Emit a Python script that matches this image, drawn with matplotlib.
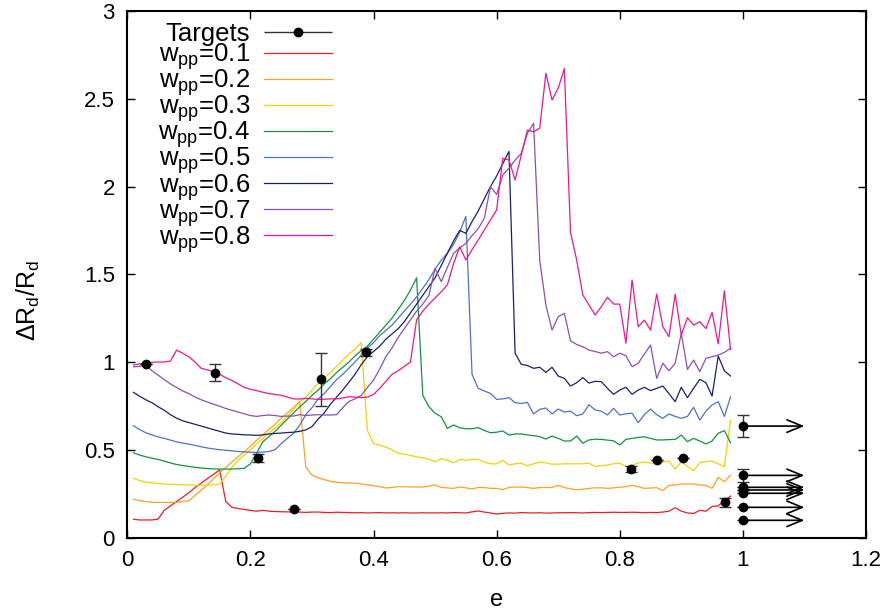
import numpy as np
import matplotlib
matplotlib.use("Agg")
import matplotlib.pyplot as plt
from matplotlib.legend_handler import HandlerErrorbar

plt.rcParams['font.family'] = ['Liberation Sans', 'DejaVu Sans']
plt.rcParams['mathtext.fontset'] = 'custom'
plt.rcParams['mathtext.rm'] = 'Liberation Sans'
plt.rcParams['mathtext.it'] = 'Liberation Sans'
plt.rcParams['mathtext.default'] = 'regular'

# ---------------- data ----------------
e_grid = np.round(np.arange(1, 99) * 0.01, 2)   # 0.01 ... 0.98

w01 = [0.104, 0.10, 0.10, 0.10, 0.105, 0.155, 0.18, 0.205, 0.23, 0.255,
       0.285, 0.31, 0.335, 0.36, 0.385, 0.205, 0.172, 0.165, 0.16, 0.155,
       0.15, 0.155, 0.15, 0.148, 0.147, 0.146, 0.145, 0.145, 0.143, 0.145,
       0.145, 0.143, 0.142, 0.144, 0.143, 0.142, 0.141, 0.142, 0.140, 0.141,
       0.142, 0.140, 0.141, 0.140, 0.141, 0.140, 0.140, 0.141, 0.140, 0.140,
       0.141, 0.140, 0.142, 0.141, 0.140, 0.146, 0.151, 0.145, 0.140, 0.134,
       0.138, 0.140, 0.139, 0.142, 0.141, 0.140, 0.141, 0.139, 0.140, 0.141,
       0.141, 0.142, 0.141, 0.140, 0.142, 0.143, 0.142, 0.143, 0.144, 0.143,
       0.143, 0.144, 0.143, 0.142, 0.143, 0.142, 0.145, 0.150, 0.170, 0.150,
       0.140, 0.137, 0.155, 0.150, 0.177, 0.180, 0.210, 0.236]

w02 = [0.218, 0.21, 0.205, 0.20, 0.20, 0.20, 0.20, 0.20, 0.205, 0.21,
       0.24, 0.27, 0.30, 0.335, 0.37, 0.40, 0.43, 0.46, 0.49, 0.52,
       0.555, 0.585, 0.615, 0.645, 0.68, 0.71, 0.74, 0.775, 0.40, 0.356,
       0.34, 0.33, 0.32, 0.315, 0.312, 0.31, 0.31, 0.305, 0.30, 0.295,
       0.29, 0.282, 0.285, 0.29, 0.289, 0.288, 0.288, 0.288, 0.292, 0.30,
       0.285, 0.283, 0.28, 0.288, 0.283, 0.277, 0.285, 0.285, 0.28, 0.28,
       0.273, 0.285, 0.287, 0.288, 0.284, 0.28, 0.285, 0.285, 0.285, 0.297,
       0.285, 0.277, 0.272, 0.275, 0.28, 0.283, 0.283, 0.28, 0.283, 0.287,
       0.29, 0.297, 0.29, 0.28, 0.282, 0.284, 0.267, 0.297, 0.30, 0.305,
       0.305, 0.305, 0.30, 0.297, 0.28, 0.343, 0.318, 0.356]

w03 = [0.337, 0.325, 0.315, 0.312, 0.308, 0.305, 0.303, 0.302, 0.30, 0.30,
       0.298, 0.298, 0.298, 0.30, 0.305, 0.35, 0.40, 0.44, 0.47, 0.50,
       0.535, 0.565, 0.595, 0.625, 0.655, 0.69, 0.73, 0.77, 0.80, 0.84,
       0.88, 0.91, 0.94, 0.975, 1.01, 1.045, 1.075, 1.11, 0.61, 0.535,
       0.527, 0.515, 0.50, 0.48, 0.475, 0.468, 0.46, 0.455, 0.445, 0.432,
       0.45, 0.44, 0.426, 0.445, 0.44, 0.445, 0.445, 0.43, 0.42, 0.42,
       0.44, 0.413, 0.42, 0.423, 0.409, 0.42, 0.43, 0.425, 0.418, 0.418,
       0.42, 0.42, 0.42, 0.42, 0.423, 0.404, 0.41, 0.413, 0.42, 0.423,
       0.404, 0.41, 0.425, 0.43, 0.425, 0.423, 0.43, 0.436, 0.389, 0.432,
       0.405, 0.381, 0.428, 0.432, 0.436, 0.42, 0.404, 0.67]

w04 = [0.483, 0.47, 0.46, 0.452, 0.445, 0.435, 0.425, 0.416, 0.41, 0.405,
       0.40, 0.396, 0.393, 0.391, 0.39, 0.39, 0.39, 0.392, 0.394, 0.42,
       0.48, 0.545, 0.575, 0.605, 0.64, 0.675, 0.71, 0.745, 0.775, 0.81,
       0.84, 0.875, 0.905, 0.94, 0.97, 1.0, 1.035, 1.065, 1.09, 1.13,
       1.17, 1.21, 1.25, 1.30, 1.35, 1.41, 1.48, 0.81, 0.745, 0.708,
       0.688, 0.622, 0.641, 0.625, 0.62, 0.62, 0.626, 0.61, 0.597, 0.60,
       0.607, 0.584, 0.59, 0.59, 0.585, 0.58, 0.575, 0.561, 0.578, 0.565,
       0.55, 0.55, 0.578, 0.537, 0.556, 0.56, 0.559, 0.555, 0.551, 0.527,
       0.559, 0.565, 0.57, 0.574, 0.565, 0.556, 0.556, 0.558, 0.559, 0.584,
       0.546, 0.565, 0.55, 0.533, 0.55, 0.594, 0.609, 0.54]

w05 = [0.637, 0.615, 0.597, 0.585, 0.573, 0.565, 0.555, 0.545, 0.538, 0.532,
       0.525, 0.517, 0.51, 0.505, 0.50, 0.497, 0.494, 0.49, 0.488, 0.486,
       0.485, 0.487, 0.49, 0.50, 0.535, 0.565, 0.594, 0.64, 0.70, 0.74,
       0.79, 0.82, 0.86, 0.90, 0.93, 0.965, 1.0, 1.04, 1.08, 1.11,
       1.15, 1.18, 1.21, 1.25, 1.29, 1.33, 1.37, 1.42, 1.47, 1.53,
       1.58, 1.62, 1.67, 1.74, 1.83, 0.93, 0.85, 0.835, 0.821, 0.787,
       0.79, 0.797, 0.768, 0.764, 0.77, 0.704, 0.73, 0.738, 0.704, 0.732,
       0.715, 0.72, 0.694, 0.704, 0.757, 0.727, 0.72, 0.698, 0.736, 0.698,
       0.705, 0.708, 0.654, 0.70, 0.732, 0.70, 0.679, 0.704, 0.69, 0.679,
       0.69, 0.742, 0.669, 0.72, 0.755, 0.774, 0.69, 0.802]

w06 = [0.827, 0.805, 0.785, 0.768, 0.745, 0.725, 0.70, 0.68, 0.665, 0.655,
       0.645, 0.635, 0.625, 0.615, 0.605, 0.595, 0.59, 0.588, 0.585, 0.584,
       0.582, 0.585, 0.59, 0.593, 0.595, 0.598, 0.60, 0.605, 0.613, 0.632,
       0.675, 0.71, 0.76, 0.80, 0.84, 0.885, 0.93, 0.985, 1.03, 1.06,
       1.09, 1.13, 1.16, 1.19, 1.23, 1.28, 1.33, 1.38, 1.43, 1.48,
       1.55, 1.62, 1.69, 1.75, 1.733, 1.80, 1.86, 1.93, 2.00, 2.06,
       2.13, 2.20, 1.05, 0.987, 0.98, 0.964, 0.97, 0.941, 0.97, 0.92,
       0.907, 0.863, 0.882, 0.911, 0.88, 0.89, 0.888, 0.85, 0.816, 0.84,
       0.856, 0.816, 0.84, 0.856, 0.837, 0.85, 0.863, 0.82, 0.774, 0.856,
       0.797, 0.85, 0.901, 0.882, 0.806, 1.034, 0.95, 0.92]

w07 = [0.973, 0.975, 0.983, 0.95, 0.925, 0.90, 0.875, 0.855, 0.835, 0.82,
       0.80, 0.785, 0.772, 0.76, 0.748, 0.735, 0.725, 0.715, 0.705, 0.695,
       0.69, 0.695, 0.698, 0.695, 0.69, 0.692, 0.692, 0.70, 0.695, 0.698,
       0.70, 0.698, 0.698, 0.70, 0.74, 0.775, 0.79, 0.81, 0.855, 0.897,
       0.96, 1.03, 1.08, 1.14, 1.19, 1.24, 1.29, 1.33, 1.38, 1.534,
       1.458, 1.54, 1.619, 1.65, 1.676, 1.72, 1.76, 1.819, 1.999, 1.955,
       2.066, 2.104, 2.15, 2.189, 2.303, 2.36, 1.58, 1.325, 1.182, 1.258,
       1.277, 1.121, 1.10, 1.087, 1.068, 1.06, 1.05, 1.059, 1.03, 1.05,
       1.036, 0.973, 0.993, 1.045, 1.097, 0.907, 0.993, 0.95, 0.993, 1.163,
       0.958, 1.011, 0.945, 1.021, 1.03, 1.04, 1.055, 1.078]

w08 = [0.983, 0.99, 0.993, 0.998, 1.0, 1.0, 1.005, 1.068, 1.05, 1.03,
       1.0, 0.964, 0.955, 0.945, 0.93, 0.91, 0.895, 0.875, 0.855, 0.845,
       0.837, 0.828, 0.82, 0.815, 0.81, 0.80, 0.79, 0.789, 0.793, 0.79,
       0.787, 0.788, 0.79, 0.79, 0.795, 0.802, 0.80, 0.797, 0.80, 0.815,
       0.85, 0.89, 0.93, 0.95, 0.975, 1.0, 1.24, 1.29, 1.33, 1.365,
       1.40, 1.44, 1.56, 1.657, 1.581, 1.64, 1.695, 1.752, 1.81, 1.866,
       2.161, 2.151, 2.037, 2.179, 2.322, 2.312, 2.332, 2.645, 2.493, 2.56,
       2.673, 1.74, 1.581, 1.382, 1.325, 1.268, 1.315, 1.369, 1.33, 1.33,
       1.107, 1.467, 1.201, 1.239, 1.182, 1.387, 1.201, 1.144, 1.386, 1.154,
       1.252, 1.21, 1.23, 1.19, 1.283, 1.103, 1.406, 1.072]

series_labels = ['w$_{pp}$=0.1', 'w$_{pp}$=0.2', 'w$_{pp}$=0.3', 'w$_{pp}$=0.4',
                 'w$_{pp}$=0.5', 'w$_{pp}$=0.6', 'w$_{pp}$=0.7', 'w$_{pp}$=0.8']
series_values = [w01, w02, w03, w04, w05, w06, w07, w08]
series_colors = ['#ee1c25', '#ffa024', '#f7d000', '#14913f',
                 '#4d72c2', '#17226a', '#8a50ad', '#f0168c']

target_e = [0.031, 0.142, 0.212, 0.271, 0.314, 0.388, 0.818, 0.860, 0.903, 0.971]
target_y = [0.987, 0.939, 0.455, 0.164, 0.901, 1.055, 0.390, 0.440, 0.451, 0.200]
target_err = [0.0, 0.048, 0.023, 0.0, 0.149, 0.02, 0.015, 0.0, 0.0, 0.025]

limit_e = 1.0
limit_end = 1.1
limit_y = [0.635, 0.354, 0.286, 0.271, 0.252, 0.172, 0.098]
limit_err = [0.064, 0.036, 0.0, 0.0, 0.0, 0.0, 0.0]

# ---------------- figure ----------------
fig = plt.figure(figsize=(8.91, 6.15), dpi=100)
ax = fig.add_axes([0.1429, 0.1260, 0.9719 - 0.1429, 0.9821 - 0.1260])

handles = []
for vals, lab, col in zip(series_values, series_labels, series_colors):
    ln, = ax.plot(e_grid, vals, color=col, lw=0.9, label=lab)
    handles.append(ln)

ax.errorbar(target_e, target_y, yerr=target_err, fmt='o', color='black',
            ms=6, ecolor='#333333', elinewidth=1.0, capsize=4, capthick=1.0,
            zorder=5)
ax.errorbar([limit_e] * len(limit_y), limit_y, yerr=limit_err, fmt='o',
            color='black', ms=6, ecolor='#333333', elinewidth=1.0, capsize=4,
            capthick=1.0, zorder=5)
for yv in limit_y:
    ax.annotate('', xy=(limit_end, yv), xytext=(limit_e, yv),
                arrowprops=dict(arrowstyle='->,head_length=1.1,head_width=0.45',
                                lw=1.2, color='black', shrinkA=0, shrinkB=0,
                                mutation_scale=10), zorder=5)

proxy = ax.errorbar([], [], xerr=[], fmt='o', color='black', ms=6,
                    ecolor='#333333', elinewidth=1.0, capsize=4, capthick=1.0,
                    label='Targets')

ax.set_xlim(0, 1.2)
ax.set_ylim(0, 3)
ax.set_xticks([0, 0.2, 0.4, 0.6, 0.8, 1, 1.2])
ax.set_xticklabels(['0', '0.2', '0.4', '0.6', '0.8', '1', '1.2'])
ax.set_yticks([0, 0.5, 1, 1.5, 2, 2.5, 3])
ax.set_yticklabels(['0', '0.5', '1', '1.5', '2', '2.5', '3'])
ax.tick_params(direction='in', length=6, width=1, top=True, right=True,
               labelsize=16, pad=9)
for s in ax.spines.values():
    s.set_linewidth(1.5)

ax.set_xlabel('e', fontsize=17)
ax.xaxis.set_label_coords(0.5, -0.0975)
ax.set_ylabel('ΔR$_d$/R$_d$', fontsize=18)
ax.yaxis.set_label_coords(-0.1155, 0.45)

leg = ax.legend([proxy] + handles, ['Targets'] + series_labels,
                loc='upper right', bbox_to_anchor=(0.277, 0.979),
                frameon=False, markerfirst=False, fontsize=18.5,
                handlelength=2.65, handletextpad=0.54, labelspacing=-0.18,
                borderpad=0, borderaxespad=0,
                handler_map={proxy: HandlerErrorbar(xerr_size=1.32)})

fig.savefig('out.png', dpi=100)
